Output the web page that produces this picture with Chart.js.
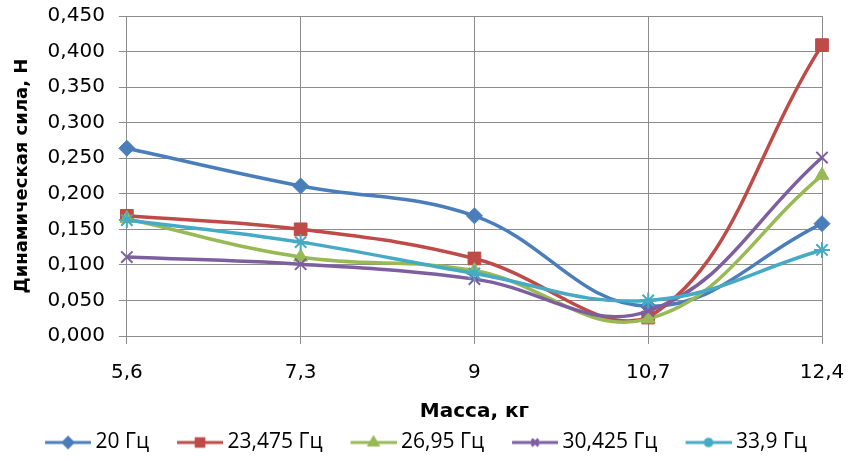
<!DOCTYPE html>
<html>
<head>
<meta charset="utf-8">
<script src="https://cdn.jsdelivr.net/npm/chart.js@4/dist/chart.umd.min.js"></script>
<style>
  html, body { margin: 0; padding: 0; background: #fff; }
  #wrap { width: 851px; height: 461px; }
</style>
</head>
<body>
<div id="wrap"><canvas id="chart"></canvas></div>
<script>
// masses (kg) on the x axis
const masses = ['5,6', '7,3', '9', '10,7', '12,4'];
const seriesNames = ['20 Гц', '23,475 Гц', '26,95 Гц', '30,425 Гц', '33,9 Гц'];

// dynamic force, N
const f20 = [0.264, 0.211, 0.169, 0.042, 0.158];
const f23 = [0.169, 0.150, 0.109, 0.026, 0.409];
const f26 = [0.165, 0.111, 0.092, 0.024, 0.226];
const f30 = [0.111, 0.101, 0.080, 0.035, 0.251];
const f33 = [0.163, 0.132, 0.088, 0.050, 0.121];

const colors = ['#4A7EBB', '#BE4B48', '#98B954', '#7D5FA0', '#46AAC5'];
const markers = ['rectRot', 'rect', 'triangle', 'crossRot', 'star'];
const radii = [8, 9, 8, 8, 8];
const values = [f20, f23, f26, f30, f33];

// legend icon: short line with the marker on it, like Excel
// (blank on the left works as gap between legend items)
function legendIcon(i) {
    const c = document.createElement('canvas');
    c.width = 70; c.height = 16;
    const ctx = c.getContext('2d');
    ctx.strokeStyle = colors[i];
    ctx.fillStyle = colors[i];
    ctx.lineWidth = 3;
    ctx.beginPath(); ctx.moveTo(24, 8); ctx.lineTo(70, 8); ctx.stroke();
    Chart.helpers.drawPoint(ctx, {
        pointStyle: markers[i], radius: radii[i] * 0.6, rotation: 0, borderWidth: 1.5
    }, 47, 8);
    ctx.fill();
    return c;
}

const fmt = v => (Math.round(v * 1000) / 1000).toFixed(3).replace('.', ',');

const datasets = values.map((vals, i) => ({
    label: seriesNames[i],
    data: vals,
    borderColor: colors[i],
    backgroundColor: colors[i],
    borderWidth: 3.5,
    pointStyle: markers[i],
    pointRadius: radii[i],
    pointBorderWidth: markers[i] === 'crossRot' || markers[i] === 'star' ? 2 : 1,
    tension: 0.4,
    order: 4 - i,
    fill: false
}));

new Chart(document.getElementById('chart'), {
    type: 'line',
    data: { labels: masses, datasets: datasets },
    options: {
        responsive: true,
        maintainAspectRatio: false,
        animation: false,
        layout: { padding: { left: 12, right: 29, top: 0, bottom: -2 } },
        plugins: {
            tooltip: { enabled: false },
            legend: {
                position: 'bottom',
                labels: {
                    font: { family: 'Open Sans', size: 21 },
                    color: '#000',
                    usePointStyle: true,
                    pointStyleWidth: 58,
                    padding: 10,
                    generateLabels: chart => chart.data.datasets.map((ds, i) => ({
                        text: ds.label,
                        pointStyle: legendIcon(i),
                        datasetIndex: i,
                        fontColor: '#000',
                        hidden: false
                    }))
                }
            }
        },
        scales: {
            x: {
                offset: false,
                grid: { color: '#8c8c8c', lineWidth: 1, drawTicks: true, tickLength: 8 },
                border: { color: '#8c8c8c' },
                ticks: { font: { family: 'DejaVu Sans', size: 20 }, color: '#000', padding: 17 },
                title: {
                    display: true, text: 'Масса, кг', color: '#000',
                    font: { family: 'DejaVu Sans', size: 20, weight: 'bold', lineHeight: 1 },
                    padding: { top: 0, bottom: 0 }
                },
                afterFit: s => { s.paddingLeft = 0; s.paddingRight = 0; }
            },
            y: {
                min: 0, max: 0.45,
                grid: { color: '#8c8c8c', lineWidth: 1, tickLength: 8 },
                border: { color: '#8c8c8c' },
                ticks: {
                    stepSize: 0.05,
                    font: { family: 'DejaVu Sans', size: 20 },
                    color: '#000',
                    padding: 14,
                    callback: v => fmt(v)
                },
                title: {
                    display: true, text: 'Динамическая сила, Н', color: '#000',
                    font: { family: 'DejaVu Sans', size: 18, weight: 'bold' },
                    padding: { top: 0, bottom: 0 }
                },
                afterFit: s => { s.paddingTop = 16; s.paddingBottom = 12; }
            }
        }
    }
});
</script>
</body>
</html>
